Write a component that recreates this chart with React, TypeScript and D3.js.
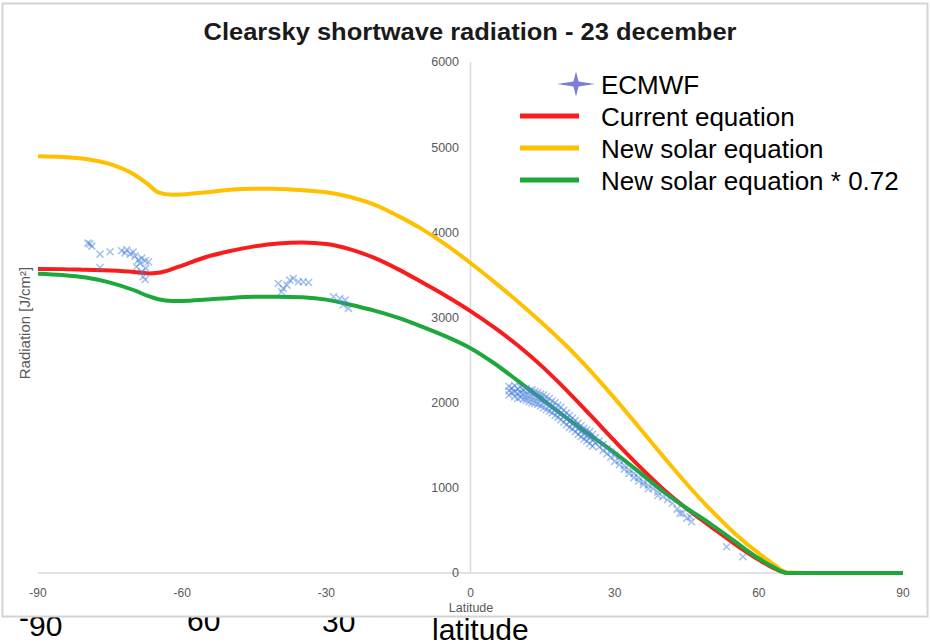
import React from "react";
import * as d3 from "d3";

const TITLE = "Clearsky shortwave radiation - 23 december";
const X_TITLE = "Latitude";
const Y_TITLE = "Radiation [J/cm²]";
const X_TICKS = [-90, -60, -30, 0, 30, 60, 90];
const Y_TICKS = [0, 1000, 2000, 3000, 4000, 5000, 6000];

const LAT = [-90, -85, -80, -75, -70, -67, -65, -62, -60, -55, -50, -45, -40, -35, -30, -25, -20, -15, -10, -5, 0, 5, 10, 15, 20, 25, 30, 35, 40, 45, 50, 55, 60, 63, 66, 70, 75, 80, 85, 90];
const CURRENT = [3570, 3568, 3560, 3552, 3535, 3518, 3525, 3570, 3610, 3710, 3780, 3835, 3870, 3880, 3862, 3800, 3700, 3565, 3410, 3250, 3075, 2880, 2665, 2420, 2145, 1850, 1550, 1260, 990, 755, 545, 340, 155, 60, 0, 0, 0, 0, 0, 0];
const NEW_SOLAR = [4894, 4885, 4860, 4800, 4680, 4560, 4470, 4440, 4445, 4470, 4500, 4512, 4510, 4495, 4470, 4415, 4325, 4190, 4035, 3850, 3640, 3415, 3180, 2930, 2665, 2370, 2050, 1715, 1375, 1045, 740, 465, 230, 105, 5, 0, 0, 0, 0, 0];
const NEW_SOLAR_072 = [3515, 3500, 3470, 3410, 3320, 3250, 3215, 3195, 3195, 3210, 3230, 3243, 3245, 3238, 3210, 3150, 3080, 2995, 2890, 2775, 2640, 2460, 2250, 2035, 1820, 1615, 1410, 1190, 960, 760, 575, 370, 170, 70, 0, 0, 0, 0, 0, 0];

const ECMWF: [number, number][] = [
  [-79.6, 3873], [-79.2, 3862], [-78.8, 3838], [-77.1, 3744], [-77.1, 3588], [-75.0, 3771], [-72.6, 3783], [-71.9, 3759],
  [-71.5, 3795], [-70.8, 3744], [-70.2, 3768], [-69.8, 3721], [-69.5, 3595], [-69.1, 3674], [-68.8, 3635], [-68.4, 3697],
  [-68.4, 3536], [-68.1, 3478], [-67.7, 3666], [-67.7, 3447], [-67.6, 3580], [-67.0, 3654],
  [-40.0, 3400], [-39.3, 3302], [-39.0, 3342], [-38.2, 3380], [-37.6, 3439], [-36.9, 3459], [-35.8, 3419], [-34.8, 3419],
  [-33.7, 3412], [-28.5, 3243], [-27.2, 3224], [-26.1, 3204], [-26.5, 3146], [-25.4, 3107],
  [8.0, 2190], [8.0, 2140], [8.0, 2090], [8.6, 2170], [8.6, 2120], [9.2, 2200], [9.2, 2130], [9.2, 2070],
  [9.8, 2160], [9.8, 2110], [9.8, 2050], [10.4, 2180], [10.4, 2120], [10.4, 2060], [11.0, 2150], [11.0, 2100], [11.0, 2040],
  [11.6, 2170], [11.6, 2090], [11.6, 2030], [12.2, 2140], [12.2, 2080], [12.2, 2010], [12.8, 2150], [12.8, 2070], [12.8, 2000],
  [13.4, 2130], [13.4, 2060], [13.4, 1990], [14.0, 2120], [14.0, 2050], [14.0, 1980], [14.6, 2100], [14.6, 2030], [14.6, 1960],
  [15.2, 2090], [15.2, 2010], [15.2, 1940], [15.8, 2070], [15.8, 2000], [15.8, 1920], [16.4, 2050], [16.4, 1970], [16.4, 1900],
  [17.0, 2020], [17.0, 1950], [17.0, 1880], [17.6, 2000], [17.6, 1920], [17.6, 1850], [18.2, 1970], [18.2, 1900], [18.2, 1830],
  [18.8, 1950], [18.8, 1870], [18.8, 1800], [19.4, 1910], [19.4, 1840], [19.4, 1770], [20.0, 1880], [20.0, 1810], [20.0, 1740],
  [20.6, 1850], [20.6, 1780], [20.6, 1710], [21.2, 1820], [21.2, 1750], [21.2, 1690], [21.8, 1790], [21.8, 1720], [21.8, 1660],
  [22.4, 1760], [22.4, 1690], [22.4, 1630], [23.0, 1730], [23.0, 1660], [23.0, 1600], [23.6, 1700], [23.6, 1630], [23.6, 1570],
  [24.2, 1680], [24.2, 1610], [24.2, 1550], [24.8, 1660], [24.8, 1590], [24.8, 1520], [25.4, 1630], [25.4, 1560], [25.4, 1490],
  [26.0, 1590], [26.0, 1530], [26.8, 1550], [26.8, 1480], [27.6, 1510], [27.6, 1440], [28.4, 1460], [28.4, 1400],
  [29.2, 1420], [29.2, 1360], [30.0, 1380], [30.0, 1310], [31.0, 1320], [31.0, 1270], [32.0, 1260], [32.0, 1220],
  [33.0, 1210], [33.0, 1170], [34.0, 1170], [34.0, 1120], [35.0, 1120], [35.0, 1080], [36.0, 1070], [36.0, 1040],
  [37.0, 1030], [37.0, 990], [38.0, 990], [39.0, 950], [39.0, 910], [40.0, 896], [41.0, 860], [42.0, 818], [43.0, 750],
  [43.6, 700], [44.2, 704], [45.0, 642], [45.7, 661], [46.0, 602], [53.3, 309], [56.7, 191],
];

const SERIES = [
  { name: "Current equation", values: CURRENT, color: "#f81c1c" },
  { name: "New solar equation", values: NEW_SOLAR, color: "#ffc000" },
  { name: "New solar equation * 0.72", values: NEW_SOLAR_072, color: "#1ea83c" },
];

export default function App() {
  const x = d3.scaleLinear().domain([-90, 90]).range([38, 903]);
  const y = d3.scaleLinear().domain([0, 6000]).range([573, 62]);
  const line = (vals: number[]) =>
    d3
      .line<number>()
      .x((_, i) => x(LAT[i]))
      .y((v) => y(v))
      .curve(d3.curveMonotoneX)(vals) as string;

  const font = "'Liberation Sans', Arial, sans-serif";
  const legendY = [84, 116, 148, 180];
  const star = (cx: number, cy: number) => {
    const rx = 19, ry = 12.5, r = 2.6;
    return `M${cx - rx},${cy} L${cx - r},${cy - r} L${cx},${cy - ry} L${cx + r},${cy - r} L${cx + rx},${cy} L${cx + r},${cy + r} L${cx},${cy + ry} L${cx - r},${cy + r} Z`;
  };

  return (
    <svg
      width={930}
      height={642}
      style={{ position: "absolute", left: 0, top: 0, background: "#fff" }}
      fontFamily={font}
    >
      {/* text lying behind the chart frame, only its lower part shows */}
      <g fontSize={30} fill="#000">
        <text x={19} y={636}>
          <tspan dy={-8}>-</tspan>
          <tspan dy={8}>90</tspan>
        </text>
        <text x={187} y={631}>60</text>
        <text x={322} y={632}>30</text>
        <text x={432} y={640}>latitude</text>
      </g>
      <rect x={2.5} y={3.5} width={925} height={613} fill="#fff" stroke="#d4d4d4" strokeWidth={2} />

      <text x={470} y={40} textAnchor="middle" fontWeight="bold" fontSize={23} fill="#1a1a1a" textLength={533} lengthAdjust="spacingAndGlyphs">
        {TITLE}
      </text>

      {/* axes */}
      <line x1={x(-90)} x2={x(90)} y1={y(0)} y2={y(0)} stroke="#d9d9d9" strokeWidth={1.5} />
      <line x1={x(0)} x2={x(0)} y1={y(0)} y2={y(6000)} stroke="#d9d9d9" strokeWidth={1.5} />
      {Y_TICKS.map((t) => (
        <text key={t} x={459} y={y(t)} dy="0.35em" textAnchor="end" fontSize={12.5} fill="#595959">
          {t}
        </text>
      ))}
      {X_TICKS.map((t) => (
        <text key={t} x={x(t)} y={593} dy="0.35em" textAnchor="middle" fontSize={12} fill="#595959">
          {t}
        </text>
      ))}
      <text x={471} y={607.5} dy="0.35em" textAnchor="middle" fontSize={12.5} fill="#595959">
        {X_TITLE}
      </text>
      <text transform="translate(25,323) rotate(-90)" textAnchor="middle" dy="0.35em" fontSize={15} fill="#595959">
        {Y_TITLE}
      </text>

      {/* lines */}
      {SERIES.map((s) => (
        <path key={s.name} d={line(s.values)} fill="none" stroke={s.color} strokeWidth={4} strokeLinejoin="round" />
      ))}

      {/* ECMWF scatter */}
      <g stroke="#4a84dc" strokeWidth={1.5} strokeOpacity={0.5}>
        {ECMWF.map(([la, v], i) => {
          const cx = x(la), cy = y(v), s = 3.5;
          return (
            <path key={i} d={`M${cx - s},${cy - s}L${cx + s},${cy + s}M${cx - s},${cy + s}L${cx + s},${cy - s}`} />
          );
        })}
      </g>

      {/* legend */}
      <path d={star(576, legendY[0])} fill="#7b7fd6" />
      <text x={601} y={legendY[0] + 9.5} fontSize={26} fill="#000">ECMWF</text>
      {SERIES.map((s, i) => (
        <g key={s.name}>
          <line x1={520} x2={579} y1={legendY[i + 1]} y2={legendY[i + 1]} stroke={s.color} strokeWidth={5} />
          <text x={601} y={legendY[i + 1] + 10} fontSize={26} fill="#000">{s.name}</text>
        </g>
      ))}
    </svg>
  );
}
